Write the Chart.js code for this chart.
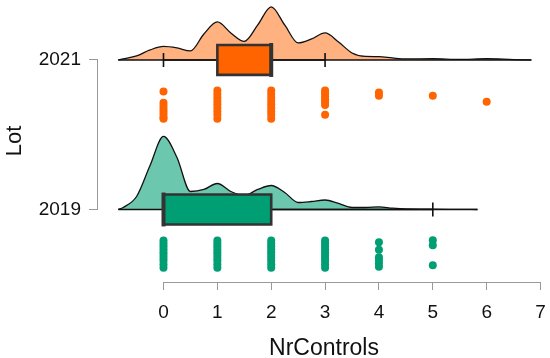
<!DOCTYPE html>
<html>
<head>
<meta charset="utf-8">
<script src="https://cdn.jsdelivr.net/npm/chart.js@4.4.1/dist/chart.umd.min.js"></script>
<style>
  html, body { margin: 0; padding: 0; background: #fff; }
</style>
</head>
<body>
<canvas id="rainChart" width="550" height="358"></canvas>
<script>
// categories (bottom to top) and x tick labels
const groups = ['2019', '2021'];
const xTicks = [0, 1, 2, 3, 4, 5, 6, 7];

// density curves
const densX2019 = [-0.84, -0.75, -0.5, -0.25, 0, 0.25, 0.5, 0.75, 1, 1.25, 1.5, 1.75, 2, 2.25, 2.5, 2.75, 3, 3.25, 3.5, 3.75, 4, 4.25, 4.5, 5, 5.5, 5.83];
const dens2019  = [0, 0.02, 0.13, 0.44, 0.73, 0.52, 0.18, 0.2, 0.26, 0.18, 0.14, 0.2, 0.24, 0.17, 0.07, 0.08, 0.095, 0.06, 0.02, 0.02, 0.027, 0.013, 0.005, 0.003, 0.001, 0];
const densX2021 = [-0.84, -0.75, -0.5, -0.25, 0, 0.25, 0.5, 0.75, 1, 1.25, 1.5, 1.75, 2, 2.25, 2.5, 2.75, 3, 3.25, 3.5, 3.75, 4, 4.25, 4.5, 5, 5.5, 6, 6.5, 6.83];
const dens2021  = [0, 0.01, 0.04, 0.1, 0.135, 0.12, 0.09, 0.26, 0.38, 0.27, 0.185, 0.35, 0.53, 0.35, 0.17, 0.21, 0.27, 0.18, 0.07, 0.035, 0.033, 0.02, 0.01, 0.012, 0.005, 0.012, 0.004, 0];

// box stats: whisker low, q1, median, q3, whisker high
const box2019 = [0, 0, 0, 2, 5];
const box2021 = [0, 1, 2, 2, 3];

// raw points (value) and their jitter (0..1 inside the rain band)
const pts2019 = [0,0,0,0,0,0,0,0,0,0, 1,1,1,1,1,1,1,1,1,1, 2,2,2,2,2,2,2,2,2,2, 3,3,3,3,3,3,3,3,3,3, 4,4,4,4,4,4, 5,5,5];
const jit2019 = [0.04,0.14,0.24,0.34,0.44,0.54,0.64,0.74,0.86,0.98, 0.04,0.14,0.24,0.34,0.44,0.54,0.64,0.74,0.86,0.98, 0.04,0.14,0.24,0.34,0.44,0.54,0.64,0.74,0.86,0.98, 0.04,0.14,0.24,0.34,0.44,0.54,0.64,0.74,0.86,0.98, 0.1,0.36,0.62,0.71,0.82,0.94, 0.03,0.2,0.89];
const pts2021 = [0,0,0,0,0,0,0,0, 1,1,1,1,1,1,1,1,1, 2,2,2,2,2,2,2,2,2, 3,3,3,3,3,3,3, 4,4, 5, 6];
const jit2021 = [0.06,0.44,0.55,0.65,0.75,0.85,0.95,1.0, 0.02,0.14,0.26,0.38,0.5,0.62,0.74,0.86,1.0, 0.02,0.14,0.26,0.38,0.5,0.62,0.74,0.86,1.0, 0.02,0.12,0.22,0.32,0.42,0.52,0.86, 0.09,0.2, 0.2, 0.41];

const densScale = 100 / 149.5;
const boxHalf = 0.1, capHalf = 0.047;
const rainTop = 0.2, rainDepth = 0.194;

const colors = {
    '2019': { dens: 'rgba(0,158,115,0.58)', box: '#009E73', pt: '#009E73' },
    '2021': { dens: 'rgba(255,102,0,0.5)', box: '#FF6400', pt: '#FF6400' }
};

function makeGroup(name, base, dx, dy, box, pts, jit) {
    const c = colors[name];
    const sets = [];
    // cloud
    sets.push({
        data: dx.map((x, i) => ({ x: x, y: base + dy[i] * densScale })),
        showLine: true, fill: { value: base }, backgroundColor: c.dens,
        borderColor: '#111', borderWidth: 1.3, pointRadius: 0,
        cubicInterpolationMode: 'monotone', order: 6
    });
    sets.push({
        data: [{ x: dx[0], y: base }, { x: dx[dx.length - 1], y: base }],
        showLine: true, borderColor: '#111', borderWidth: 1.5, pointRadius: 0, order: 5
    });
    // whiskers and caps
    sets.push({
        data: [{ x: box[0], y: base }, { x: box[4], y: base },
               { x: box[4], y: null },
               { x: box[0], y: base - capHalf }, { x: box[0], y: base + capHalf },
               { x: box[0], y: null },
               { x: box[4], y: base - capHalf }, { x: box[4], y: base + capHalf }],
        showLine: true, spanGaps: false, borderColor: '#111', borderWidth: 1.6, pointRadius: 0, order: 4
    });
    // box
    sets.push({
        data: [{ x: box[1], y: base + boxHalf }, { x: box[3], y: base + boxHalf },
               { x: box[3], y: base - boxHalf }, { x: box[1], y: base - boxHalf },
               { x: box[1], y: base + boxHalf }],
        showLine: true, fill: 'shape', backgroundColor: c.box, borderColor: '#333',
        borderWidth: 2.6, borderCapStyle: 'square', borderJoinStyle: 'miter', pointRadius: 0, order: 3
    });
    sets.push({
        data: [{ x: box[2], y: base - boxHalf }, { x: box[2], y: base + boxHalf }],
        showLine: true, borderColor: '#333', borderWidth: 4, borderCapStyle: 'square', pointRadius: 0, order: 2
    });
    // rain
    sets.push({
        data: pts.map((v, i) => ({ x: v, y: base - rainTop - jit[i] * rainDepth })),
        showLine: false, pointRadius: 4, pointBackgroundColor: c.pt, pointBorderWidth: 0, order: 1
    });
    return sets;
}

const datasets = [].concat(
    makeGroup('2019', 0, densX2019, dens2019, box2019, pts2019, jit2019),
    makeGroup('2021', 1, densX2021, dens2021, box2021, pts2021, jit2021)
);

const axisLines = {
    id: 'axisLines',
    beforeDatasetsDraw(chart) {
        const { ctx, chartArea, scales: { x, y } } = chart;
        ctx.save();
        ctx.strokeStyle = '#999';
        ctx.lineWidth = 1;
        ctx.beginPath();
        const by = Math.round(chartArea.bottom) + 0.5;
        ctx.moveTo(x.getPixelForValue(xTicks[0]), by);
        ctx.lineTo(x.getPixelForValue(xTicks[xTicks.length - 1]), by);
        const lx = Math.round(chartArea.left) - 0.5;
        ctx.moveTo(lx, y.getPixelForValue(0));
        ctx.lineTo(lx, y.getPixelForValue(groups.length - 1));
        ctx.stroke();
        ctx.restore();
    }
};

const font = 'Liberation Sans, Arial, sans-serif';

new Chart(document.getElementById('rainChart'), {
    type: 'scatter',
    data: { datasets: datasets },
    plugins: [axisLines],
    options: {
        responsive: false,
        animation: false,
        events: [],
        layout: { padding: 0, autoPadding: false },
        plugins: { legend: { display: false }, tooltip: { enabled: false } },
        scales: {
            x: {
                type: 'linear', min: -1.216, max: 7.176,
                afterBuildTicks: s => { s.ticks = xTicks.map(v => ({ value: v })); },
                afterFit: s => { s.height = 76; s.paddingLeft = 0; s.paddingRight = 0; },
                grid: { drawOnChartArea: false, drawTicks: true, tickLength: 8, color: '#999' },
                border: { display: false },
                ticks: { font: { family: font, size: 19 }, color: '#111', padding: 11, maxRotation: 0 },
                title: { display: true, text: 'NrControls', color: '#111',
                         font: { family: font, size: 23, lineHeight: 1 }, padding: { top: 0, bottom: -2 } }
            },
            y: {
                type: 'linear', min: -0.485, max: 1.401,
                afterBuildTicks: s => { s.ticks = groups.map((g, i) => ({ value: i })); },
                afterFit: s => { s.width = 98; s.paddingTop = 0; s.paddingBottom = 0; },
                grid: { drawOnChartArea: false, drawTicks: true, tickLength: 9, color: '#999' },
                border: { display: false },
                ticks: { font: { family: font, size: 19 }, color: '#111', padding: 8,
                         callback: v => groups[v] },
                title: { display: true, text: 'Lot', color: '#111',
                         font: { family: font, size: 22 }, padding: { top: 2, bottom: 0 } }
            }
        }
    }
});
</script>
</body>
</html>
